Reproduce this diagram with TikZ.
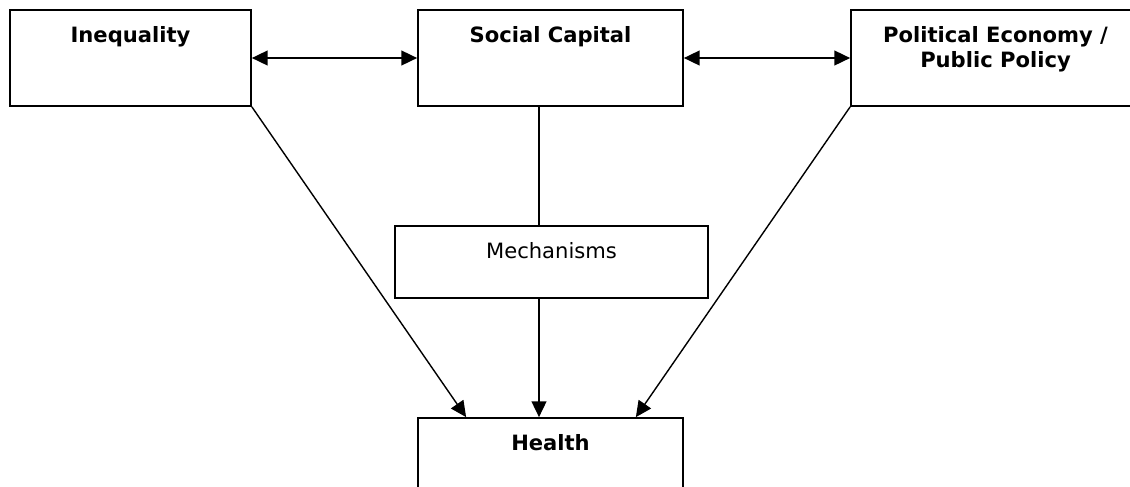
\documentclass[tikz,border=0pt]{standalone}
\usepackage{fontspec}
\setmainfont{DejaVu Sans}
\usetikzlibrary{arrows.meta, positioning, calc}

\tikzset{
  box/.style={draw, line width=1pt, inner sep=0pt},
  boxtitle/.style={font=\bfseries\fontsize{12}{14.2}\selectfont, align=center, below, inner sep=0pt},
  boxtext/.style={font=\fontsize{12}{14.2}\selectfont, align=center, below, inner sep=0pt},
  link/.style={line width=0.8pt},
  tip/.style={-{Triangle[length=9pt,width=8.5pt]}},
  twotip/.style={{Triangle[length=9pt,width=8.5pt]}-{Triangle[length=9pt,width=8.5pt]}},
}

\begin{document}
\begin{tikzpicture}
        \path[use as bounding box, clip] (0,0) rectangle (22.6,-9.72);
        % Top row
        \node[box, minimum width=4.82cm, minimum height=1.92cm] (ineq) at (2.61,-1.16) {};
        \node[box, minimum width=5.30cm, minimum height=1.92cm] (soccap) at (11.01,-1.16) {};
        \node[box, minimum width=5.78cm, minimum height=1.92cm] (polecon) at (19.91,-1.16) {};
        \node[boxtitle] (ineqtitle) at ($(ineq.north)+(0,-0.34)$) {Inequality};
        \node[boxtitle] (soccaptitle) at ($(soccap.north)+(0,-0.34)$) {Social Capital};
        \node[boxtitle] (polecontitle) at ($(polecon.north)+(0,-0.34)$) {Political Economy /\\Public Policy};
        % Mechanisms
        \node[box, minimum width=6.26cm, minimum height=1.44cm] (mech) at (11.03,-5.24) {};
        \node[boxtext] (mechtext) at ($(mech.north)+(0,-0.34)$) {Mechanisms};
        % Health
        \node[box, minimum width=5.30cm, minimum height=1.92cm] (health) at (11.01,-9.32) {};
        \node[boxtitle] (healthtitle) at ($(health.north)+(0,-0.34)$) {Health};
        % Two-way links
        \draw[link, twotip] (ineq.east) -- (soccap.west);
        \draw[link, twotip] (soccap.east) -- (polecon.west);
        % Vertical spine
        \coordinate (spine) at (10.78,0);
        \draw[link] (soccap.south -| spine) -- (mech.north -| spine);
        \draw[link, tip] (mech.south -| spine) -- (health.north -| spine);
        % Diagonal links
        \draw[link, tip] (ineq.south east) -- ($(health.north west)+(0.98,0)$);
        \draw[link, tip] (polecon.south west) -- ($(health.north east)+(-0.96,0)$);
\end{tikzpicture}
\end{document}
